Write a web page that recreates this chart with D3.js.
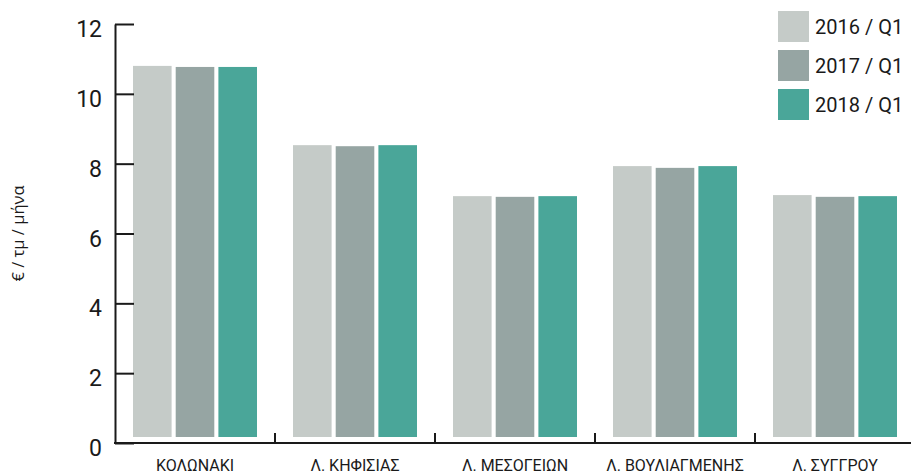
<!DOCTYPE html>
<html>
<head>
<meta charset="utf-8">
<script src="https://cdn.jsdelivr.net/npm/d3@7/dist/d3.min.js"></script>
<style>
  html, body { margin: 0; padding: 0; background: #ffffff; }
  svg { display: block; font-family: Roboto, "Noto Sans", sans-serif; }
</style>
</head>
<body>
<svg id="chart" width="911" height="475"></svg>
<script>
// Average asking rents per area, first quarter of each year
const areas = ["ΚΟΛΩΝΑΚΙ", "Λ. ΚΗΦΙΣΙΑΣ", "Λ. ΜΕΣΟΓΕΙΩΝ", "Λ. ΒΟΥΛΙΑΓΜΕΝΗΣ", "Λ. ΣΥΓΓΡΟΥ"];
const periods = ["2016 / Q1", "2017 / Q1", "2018 / Q1"];
const rent2016 = [10.80, 8.53, 7.07, 7.93, 7.10];
const rent2017 = [10.77, 8.50, 7.05, 7.88, 7.05];
const rent2018 = [10.77, 8.53, 7.07, 7.93, 7.07];
const yTicks = [0, 2, 4, 6, 8, 10, 12];
const yTitle = "€ / τμ / μήνα";
const colors = ["#c5cbc8", "#96a5a3", "#4aa699"];

const seriesValues = [rent2016, rent2017, rent2018];
const rows = areas.map((a, i) => ({
  area: a,
  values: periods.map((p, j) => ({ period: p, value: seriesValues[j][i], idx: j }))
}));

const svg = d3.select("#chart");
const axisX = 115, baseY = 443, topY = 24;
const barLift = 6; // bars sit slightly above the baseline

const y = d3.scaleLinear().domain([0, 12]).range([baseY, topY]);
const x0 = d3.scaleBand().domain(areas).range([axisX, axisX + 800]).padding(0);
const x1 = d3.scaleBand().domain(periods).range([18, 142]).paddingInner(0.096).paddingOuter(0);
const color = d3.scaleOrdinal().domain(periods).range(colors);

// Bars
const groups = svg.append("g").selectAll("g")
  .data(rows).join("g")
  .attr("transform", d => `translate(${x0(d.area)},0)`);

groups.selectAll("rect")
  .data(d => d.values).join("rect")
  .attr("x", d => x1(d.period))
  .attr("y", d => y(d.value))
  .attr("width", x1.bandwidth())
  .attr("height", d => y(0) - barLift - y(d.value))
  .attr("fill", d => color(d.period));

// Y axis, ticks pointing into the plot
const yAxis = svg.append("g")
  .attr("transform", `translate(${axisX},0)`)
  .call(d3.axisLeft(y).tickValues(yTicks).tickSize(-19).tickPadding(13).tickSizeOuter(0));
yAxis.select(".domain").attr("stroke", "#1a1a1a").attr("stroke-width", 2);
yAxis.selectAll(".tick line").attr("stroke", "#1a1a1a").attr("stroke-width", 2);
yAxis.selectAll(".tick text")
  .attr("fill", "#1a1a1a")
  .attr("font-size", 23)
  .attr("font-family", "Roboto, sans-serif")
  .attr("dy", "0.55em");

// Baseline
svg.append("line")
  .attr("x1", axisX - 1).attr("x2", 911)
  .attr("y1", baseY).attr("y2", baseY)
  .attr("stroke", "#1a1a1a").attr("stroke-width", 2);

// Category separators
svg.append("g").selectAll("line")
  .data(areas.slice(1)).join("line")
  .attr("x1", d => x0(d)).attr("x2", d => x0(d))
  .attr("y1", baseY - 10).attr("y2", baseY)
  .attr("stroke", "#1a1a1a").attr("stroke-width", 2);

// Category labels
svg.append("g").selectAll("text")
  .data(areas).join("text")
  .attr("x", d => x0(d) + x0.bandwidth() / 2)
  .attr("y", 471)
  .attr("text-anchor", "middle")
  .attr("font-size", 16)
  .attr("fill", "#1a1a1a")
  .text(d => d);

// Y axis title
svg.append("text")
  .attr("transform", `translate(24,${(baseY + topY) / 2}) rotate(-90)`)
  .attr("text-anchor", "middle")
  .attr("font-size", 16.5)
  .attr("font-family", "'Open Sans', sans-serif")
  .attr("fill", "#1a1a1a")
  .text(yTitle);

// Legend
const legend = svg.append("g").attr("transform", "translate(778,11)");
const items = legend.selectAll("g")
  .data(periods).join("g")
  .attr("transform", (d, i) => `translate(0,${i * 39})`);
items.append("rect")
  .attr("width", 31).attr("height", 31)
  .attr("fill", d => color(d));
items.append("text")
  .attr("x", 37).attr("y", 23)
  .attr("font-size", 20)
  .attr("fill", "#1a1a1a")
  .text(d => d);
</script>
</body>
</html>
